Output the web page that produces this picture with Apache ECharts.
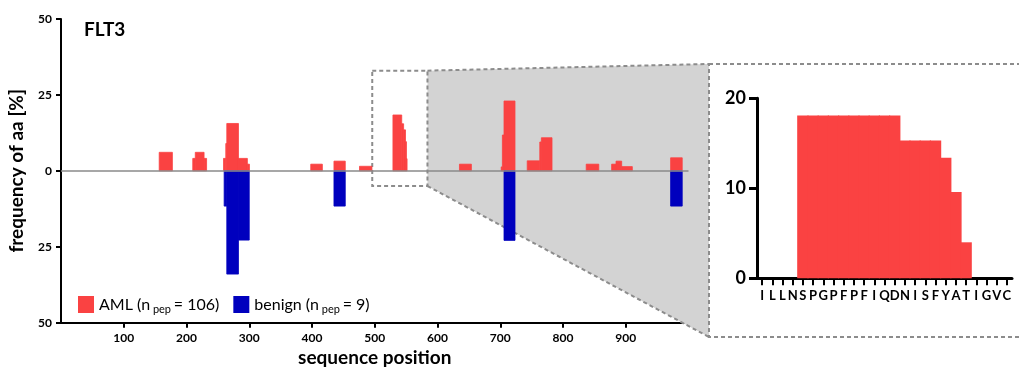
<!DOCTYPE html>
<html>
<head>
<meta charset="utf-8">
<script src="https://cdn.jsdelivr.net/npm/echarts@6/dist/echarts.min.js"></script>
<style>
html,body{margin:0;padding:0;background:#fff;}
#c{width:1019px;height:372px;}
</style>
</head>
<body>
<div id="c"></div>
<script>
// ---- data ----
const chartTitle = 'FLT3';
// AML coverage segments: [start position, end position, frequency %]
const amlSegments = [
  [156.5, 177.5, 6.1],
  [210, 214, 4.1], [214, 228, 6.1], [228, 232, 4.1],
  [259, 262.6, 4.1], [262.6, 264.2, 9.0], [264.2, 282.8, 15.6], [282.8, 297, 4.1], [297, 300.3, 2.2],
  [398, 416.5, 2.2],
  [435, 453, 3.2],
  [475.7, 495.5, 1.5],
  [529, 543, 18.4], [543, 546, 15.5], [546, 549, 13.5], [549, 550.5, 9.6], [550.5, 551.5, 4.0],
  [635, 654, 2.2],
  [701.5, 703.4, 1.3], [703.4, 706, 11.8], [706, 723.5, 23.0],
  [743, 763, 3.3], [763, 765.5, 9.5], [765.5, 782.5, 10.9],
  [837, 857, 2.2],
  [877.5, 884.5, 2.2], [884.5, 893.5, 3.2], [893.5, 910.5, 1.4],
  [971.5, 990, 4.3]
];
// benign coverage segments (plotted downward)
const benignSegments = [
  [260, 264.2, -11.6], [264.2, 282.8, -34.0], [282.8, 300, -22.8],
  [435, 453, -11.6],
  [706, 723.5, -22.9],
  [971.5, 990, -11.6]
];
const xTickValues = [100, 200, 300, 400, 500, 600, 700, 800, 900];
// zoomed window in the overview (positions, values)
const zoomWindowPos = [496, 584];
const zoomWindowVal = [-5, 33];
// inset
const insetResidues = ['I','L','L','N','S','P','G','P','F','P','F','I','Q','D','N','I','S','F','Y','A','T','I','G','V','C'];
const insetValues = [0,0,0,0,18.1,18.1,18.1,18.1,18.1,18.1,18.1,18.1,18.1,18.1,15.3,15.3,15.3,15.3,13.4,9.6,4.0,0,0,0,0];
const legendLabels = {AML: ['AML (n', ' pep ', '= 106)'], benign: ['benign (n', ' pep ', '= 9)']};

// ---- chart ----
const RED = '#FA4242', BLUE = '#0000BE';
const FONT = 'Lato';
const chart = echarts.init(document.getElementById('c'), null, {renderer: 'canvas'});

function renderSeg(params, api) {
  const x0 = api.value(0), x1 = api.value(1), v = api.value(2);
  const p0 = api.coord([x0, 0]);
  const p1 = api.coord([x1, v]);
  const c = api.visual('color');
  return {
    type: 'rect',
    shape: {x: p0[0], y: Math.min(p0[1], p1[1]), width: p1[0] - p0[0], height: Math.abs(p1[1] - p0[1])},
    style: {fill: c, stroke: c, lineWidth: 0.8}
  };
}

const axisText = {color: '#000', fontFamily: FONT, fontWeight: 'bold'};

chart.setOption({
  animation: false,
  textStyle: {fontFamily: FONT},
  title: {text: chartTitle, left: 79, top: 15, textStyle: {fontFamily: FONT, fontWeight: 'bold', fontSize: 19, color: '#000'}},
  legend: {
    data: [{name: 'AML', icon: 'rect'}, {name: 'benign', icon: 'rect'}],
    left: 73, top: 291, itemWidth: 16, itemHeight: 17, itemGap: 14, selectedMode: false,
    formatter: n => '{a|' + legendLabels[n][0] + '}{s|' + legendLabels[n][1] + '}{a|' + legendLabels[n][2] + '}',
    textStyle: {
      color: '#000',
      rich: {
        a: {fontFamily: FONT, fontSize: 16, color: '#000'},
        s: {fontFamily: FONT, fontSize: 11, color: '#000', padding: [9, 0, 0, 0]}
      }
    }
  },
  grid: [
    {left: 61, top: 19, width: 627.5, height: 303.7, outerBoundsMode: 'none', containLabel: false},
    {left: 757, top: 98.3, width: 255, height: 180, outerBoundsMode: 'none', containLabel: false}
  ],
  xAxis: [
    {
      gridIndex: 0, type: 'value', min: 0, max: 1000,
      name: 'sequence position', nameLocation: 'middle', nameGap: 25,
      nameTextStyle: Object.assign({fontSize: 19}, axisText),
      axisLine: {onZero: false, lineStyle: {color: '#000', width: 2}},
      axisTick: {show: true, length: 5, lineStyle: {color: '#000', width: 2}, customValues: xTickValues},
      axisLabel: Object.assign({fontSize: 12, margin: 9, customValues: xTickValues}, axisText),
      splitLine: {show: false}
    },
    {
      gridIndex: 1, type: 'category', data: insetResidues,
      axisLine: {lineStyle: {color: '#000', width: 3}},
      axisTick: {show: true, alignWithLabel: true, interval: 0, length: 7, lineStyle: {color: '#000', width: 2}},
      axisLabel: Object.assign({fontSize: 13, interval: 0, margin: 11}, axisText),
      splitLine: {show: false}
    }
  ],
  yAxis: [
    {
      gridIndex: 0, type: 'value', min: -50, max: 50, interval: 25,
      name: 'frequency of aa [%]', nameLocation: 'middle', nameGap: 35, nameRotate: 90,
      nameTextStyle: Object.assign({fontSize: 19}, axisText),
      axisLine: {show: true, lineStyle: {color: '#000', width: 2}},
      axisTick: {show: true, length: 5, lineStyle: {color: '#000', width: 2}},
      axisLabel: Object.assign({fontSize: 12, margin: 9, formatter: v => String(Math.abs(v))}, axisText),
      splitLine: {show: false}
    },
    {
      gridIndex: 1, type: 'value', min: 0, max: 20, interval: 10,
      axisLine: {show: true, lineStyle: {color: '#000', width: 3}},
      axisTick: {show: true, length: 8, lineStyle: {color: '#000', width: 3}},
      axisLabel: Object.assign({fontSize: 18, margin: 11}, axisText),
      splitLine: {show: false}
    }
  ],
  series: [
    {
      name: 'AML', type: 'custom', xAxisIndex: 0, yAxisIndex: 0, z: 3,
      renderItem: renderSeg, data: amlSegments, encode: {x: [0, 1], y: 2},
      itemStyle: {color: RED}, silent: true,
      markLine: {
        silent: true, symbol: 'none', label: {show: false},
        lineStyle: {color: '#8a8a8a', width: 1.5, type: 'solid'},
        data: [{yAxis: 0}]
      }
    },
    {
      name: 'benign', type: 'custom', xAxisIndex: 0, yAxisIndex: 0, z: 3,
      renderItem: renderSeg, data: benignSegments, encode: {x: [0, 1], y: 2},
      itemStyle: {color: BLUE}, silent: true
    },
    {
      name: 'inset', type: 'bar', xAxisIndex: 1, yAxisIndex: 1,
      data: insetValues.map(v => (v > 0 ? v : '-')), barWidth: '112%', barCategoryGap: 0,
      itemStyle: {color: RED, borderWidth: 0}, silent: true
    }
  ]
});

// zoom connector decorations computed from the overview's scales
const tl = chart.convertToPixel({gridIndex: 0}, [zoomWindowPos[0], zoomWindowVal[1]]);
const br = chart.convertToPixel({gridIndex: 0}, [zoomWindowPos[1], zoomWindowVal[0]]);
const insetBox = {x: 709, y: 64, w: 330, h: 273};
const dash = {stroke: '#8c8c8c', lineWidth: 2, lineDash: [4, 3], fill: null};
chart.setOption({
  graphic: [
    {type: 'polygon', z: 1, silent: true,
      shape: {points: [[br[0], tl[1]], [insetBox.x, insetBox.y], [insetBox.x, insetBox.y + insetBox.h], [br[0], br[1]]]},
      style: {fill: '#D3D3D3'}},
    {type: 'rect', z: 1, silent: true, shape: {x: tl[0], y: tl[1], width: br[0] - tl[0], height: br[1] - tl[1]}, style: dash},
    {type: 'line', z: 1, silent: true, shape: {x1: br[0], y1: tl[1], x2: insetBox.x, y2: insetBox.y}, style: dash},
    {type: 'line', z: 1, silent: true, shape: {x1: br[0], y1: br[1], x2: insetBox.x, y2: insetBox.y + insetBox.h}, style: dash},
    {type: 'rect', z: 1, silent: true, shape: {x: insetBox.x, y: insetBox.y, width: insetBox.w, height: insetBox.h}, style: dash}
  ]
});
</script>
</body>
</html>
